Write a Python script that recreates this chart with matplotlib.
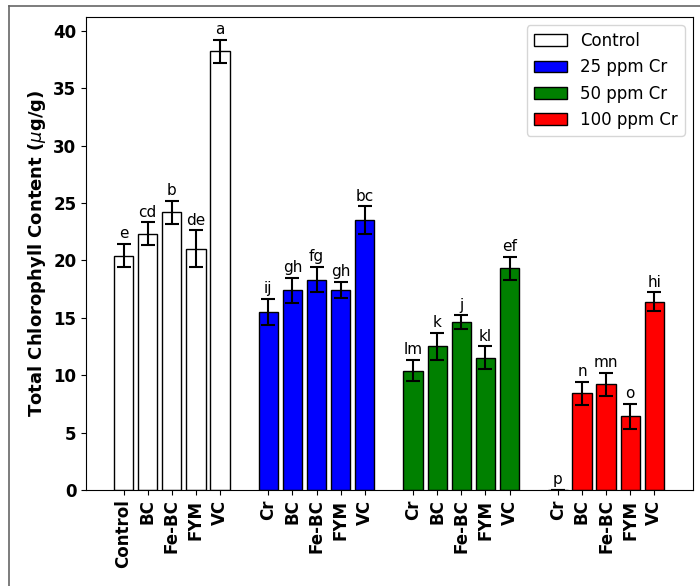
import numpy as np
import matplotlib
matplotlib.use("Agg")
from matplotlib import pyplot as plt
from matplotlib.patches import Patch
from matplotlib.lines import Line2D

# chlorophyll means, standard errors and significance letters per Cr level
treatments = ["Control", "BC", "Fe-BC", "FYM", "VC"]
cr_treatments = ["Cr", "BC", "Fe-BC", "FYM", "VC"]

control_mean = [20.4, 22.3, 24.2, 21.0, 38.2]
control_err = [1.0, 1.0, 1.0, 1.6, 1.0]
control_sig = ["e", "cd", "b", "de", "a"]

cr25_mean = [15.5, 17.4, 18.3, 17.4, 23.5]
cr25_err = [1.1, 1.1, 1.1, 0.7, 1.2]
cr25_sig = ["ij", "gh", "fg", "gh", "bc"]

cr50_mean = [10.4, 12.5, 14.6, 11.5, 19.3]
cr50_err = [0.9, 1.2, 0.6, 1.0, 1.0]
cr50_sig = ["lm", "k", "j", "kl", "ef"]

cr100_mean = [0.0, 8.4, 9.2, 6.4, 16.4]
cr100_err = [0.0, 1.0, 1.0, 1.1, 0.8]
cr100_sig = ["p", "n", "mn", "o", "hi"]

groups = [
    ("Control", "white", treatments, control_mean, control_err, control_sig),
    ("25 ppm Cr", "blue", cr_treatments, cr25_mean, cr25_err, cr25_sig),
    ("50 ppm Cr", "green", cr_treatments, cr50_mean, cr50_err, cr50_sig),
    ("100 ppm Cr", "red", cr_treatments, cr100_mean, cr100_err, cr100_sig),
]

fig = plt.figure(figsize=(7, 5.86), dpi=100)
ax = fig.add_axes([0.123, 0.164, 0.867, 0.807])

ticks, ticklabels, handles = [], [], []
for g, (name, color, labels, mean, err, sig) in enumerate(groups):
    x = np.arange(5) + g * 6
    ax.bar(x, mean, width=0.8, color=color, edgecolor="black", linewidth=1)
    ax.errorbar(x, mean, yerr=err, fmt="none", ecolor="black",
                elinewidth=1.5, capsize=5, capthick=1.5)
    for xi, m, e, s in zip(x, mean, err, sig):
        ax.text(xi, m + e + 0.25, s, ha="center", va="bottom", fontsize=11)
    ticks.extend(x)
    ticklabels.extend(labels)
    handles.append(Patch(facecolor=color, edgecolor="black", label=name))

ax.set_xticks(ticks)
ax.set_xticklabels(ticklabels, rotation=90, fontsize=12, fontweight="bold")
ax.set_xlim(-1.55, 23.6)
ax.set_ylim(0, 41.2)
ax.set_yticks(range(0, 41, 5))
for lbl in ax.get_yticklabels():
    lbl.set_fontsize(12)
    lbl.set_fontweight("bold")
ax.set_ylabel(r"Total Chlorophyll Content ($\mu$g/g)", fontsize=13, fontweight="bold")
ax.legend(handles=handles, loc="upper right", fontsize=12)

# grey frame around the figure
fx, fy = 8.5 / 700, 1 - 5.5 / 586
fig.add_artist(Line2D([fx, fx], [-0.1, fy], transform=fig.transFigure, color="0.4", lw=1.2))
fig.add_artist(Line2D([fx, 1.1], [fy, fy], transform=fig.transFigure, color="0.4", lw=1.2))

fig.savefig("out.png", dpi=100)
